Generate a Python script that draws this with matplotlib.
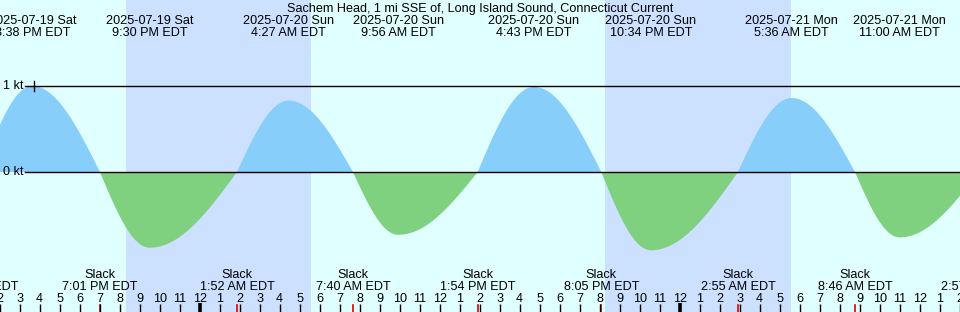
import numpy as np
import pandas as pd
import matplotlib
matplotlib.use("Agg")
import matplotlib.pyplot as plt
from matplotlib.transforms import blended_transform_factory

plt.rcParams['font.family'] = ['Liberation Sans', 'DejaVu Sans']

# ---- data ----
title = "Sachem Head, 1 mi SSE of, Long Island Sound, Connecticut Current"
slack_times = ["2025-07-19 13:04", "2025-07-19 19:01", "2025-07-20 01:52",
               "2025-07-20 07:40", "2025-07-20 13:54", "2025-07-20 20:05",
               "2025-07-21 02:55", "2025-07-21 08:46", "2025-07-21 14:57"]
max_times = ["2025-07-19 15:38", "2025-07-19 21:30", "2025-07-20 04:27",
             "2025-07-20 09:56", "2025-07-20 16:43", "2025-07-20 22:34",
             "2025-07-21 05:36", "2025-07-21 11:00"]
max_speeds = [1.00, -0.88, 0.83, -0.73, 0.99, -0.91, 0.86, -0.76]
night_starts = ["2025-07-19 20:19", "2025-07-20 20:16"]
night_ends = ["2025-07-20 05:34", "2025-07-21 05:34"]
view_start = "2025-07-19 14:01"
view_end = "2025-07-21 14:01"
y_levels = [0, 1]
y_labels = ["0 kt", "1 kt"]

# ---- styles ----
DAY = "#e0ffff"
NIGHT = "#cce0ff"
FLOOD = "#87cefa"
EBB = "#7fd07f"
FS = 9.1

ref = pd.Timestamp("2025-07-20 00:00")


def hrs(s):
    return (pd.Timestamp(s) - ref) / pd.Timedelta(hours=1)


W, H = 960, 312
fig = plt.figure(figsize=(W / 100, H / 100), dpi=100)
fig.patch.set_facecolor(DAY)
ax = fig.add_axes([0, 0, 1, 1])
ax.set_facecolor(DAY)
x0, x1 = hrs(view_start), hrs(view_end)
ax.set_xlim(x0, x1)
ax.set_ylim((172 - 312) / 86, 172 / 86)
ax.axis("off")

ty = blended_transform_factory(ax.transData, ax.transAxes)


def ypx(p):
    return 1 - p / H


# night shading
for s, e in zip(night_starts, night_ends):
    ax.axvspan(hrs(s), hrs(e), color=NIGHT, lw=0, zorder=0)

# current curve through slack / max events
ev_t = [hrs(t) for t in slack_times] + [hrs(t) for t in max_times]
ev_v = [0.0] * len(slack_times) + list(max_speeds)
order = np.argsort(ev_t)
ev_t = np.array(ev_t)[order]
ev_v = np.array(ev_v)[order]
tt = np.linspace(ev_t[0], ev_t[-1], 3000)
vv = np.zeros_like(tt)
for i in range(len(ev_t) - 1):
    m = (tt >= ev_t[i]) & (tt <= ev_t[i + 1])
    f = (tt[m] - ev_t[i]) / (ev_t[i + 1] - ev_t[i])
    if ev_v[i] == 0:
        vv[m] = ev_v[i + 1] * np.sin(np.pi / 2 * f)
    else:
        vv[m] = ev_v[i] * np.cos(np.pi / 2 * f)
ax.fill_between(tt, 0, vv, where=vv >= 0, color=FLOOD, lw=0, zorder=1,
                interpolate=True)
ax.fill_between(tt, 0, vv, where=vv <= 0, color=EBB, lw=0, zorder=1,
                interpolate=True)

# level lines and labels
yt = blended_transform_factory(ax.transAxes, ax.transData)
for lv, lb in zip(y_levels, y_labels):
    ax.axhline(lv, xmin=25 / W, xmax=1, color="black", lw=1, zorder=3)
    ax.text(3 / W, lv, lb, transform=yt, ha="left", va="center",
            fontsize=FS, zorder=4)
ax.plot([34 / W, 34 / W], [1 - 5 / 86, 1 + 5 / 86], color="black", lw=1,
        transform=yt, zorder=3)

# title
fig.text(0.5, ypx(12), title, ha="center", va="baseline", fontsize=FS)

# max labels at top
for t in max_times:
    ts = pd.Timestamp(t)
    x = hrs(t)
    ax.text(x, ypx(24), ts.strftime("%Y-%m-%d %a"), transform=ty,
            ha="center", va="baseline", fontsize=FS, zorder=5)
    ax.text(x, ypx(36), ts.strftime("%-I:%M %p EDT"), transform=ty,
            ha="center", va="baseline", fontsize=FS, zorder=5)

# slack labels at bottom
for t in slack_times:
    ts = pd.Timestamp(t)
    x = hrs(t)
    ax.text(x, ypx(278), "Slack", transform=ty, ha="center", va="baseline",
            fontsize=FS, zorder=5)
    ax.text(x, ypx(290), ts.strftime("%-I:%M %p EDT"), transform=ty,
            ha="center", va="baseline", fontsize=FS, zorder=5)
    ax.plot([x, x], [ypx(305), ypx(312)], color="#e00000", lw=1.2,
            transform=ty, zorder=6, clip_on=False)

# hour ticks
for h in range(int(np.floor(x0)), int(np.ceil(x1)) + 1):
    lab = str((h % 12) or 12)
    ax.text(h, ypx(302), lab, transform=ty, ha="center", va="baseline",
            fontsize=FS, zorder=5)
    if h % 24 == 0:
        ax.plot([h, h], [ypx(303), ypx(312)], color="black", lw=2.6,
                transform=ty, zorder=6, solid_capstyle="butt")
    else:
        ax.plot([h, h], [ypx(304), ypx(312)], color="black", lw=1,
                transform=ty, zorder=6, solid_capstyle="butt")

fig.savefig("out.png", dpi=100, facecolor=DAY)
